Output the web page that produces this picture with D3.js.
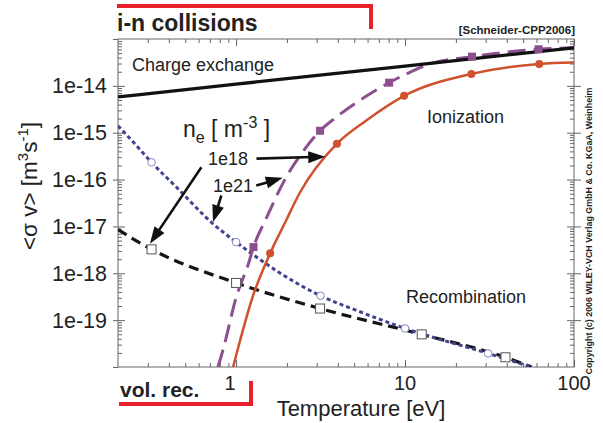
<!DOCTYPE html>
<html>
<head>
<meta charset="utf-8">
<title>i-n collisions</title>
<script src="https://cdn.jsdelivr.net/npm/d3@7"></script>
<style>
  body { margin: 0; background: #fff; }
  svg text { font-family: 'Liberation Sans', Arial, sans-serif; fill: #222; }
</style>
</head>
<body>
<svg id="chart" width="603" height="423"></svg>
<script>
// temperature [eV] -> rate coefficient <sigma v> [m^3 s^-1]
var cxT = [0.2, 1, 10, 100];
var cxV = [5.8e-15, 1.09e-14, 2.65e-14, 6.5e-14];

// ionization, ne = 1e18
var ion18T = [0.96, 1.02, 1.251, 1.591, 1.977, 2.37, 3.954, 5.87, 9.87, 24.7, 62.3, 100];
var ion18V = [1e-20, 2.3e-20, 3.08e-19, 2.67e-18, 1.34e-17, 5.04e-17, 5.83e-16, 1.8e-15, 6.12e-15, 1.8e-14, 2.94e-14, 3.15e-14];
var ion18MarkT = [1.591, 3.954, 9.87, 24.7, 62.3];
var ion18MarkV = [2.67e-18, 5.83e-16, 6.12e-15, 1.8e-14, 2.94e-14];

// ionization, ne = 1e21
var ion21T = [0.781, 0.836, 1.003, 1.185, 1.268, 1.507, 1.93, 2.595, 3.14, 3.9, 5.35, 8.05, 10.1, 13.86, 24.9, 61.7, 100];
var ion21V = [1e-20, 2.3e-20, 3.13e-19, 1.63e-18, 3.63e-18, 1.48e-17, 9.5e-17, 4.86e-16, 1.1e-15, 2.12e-15, 4.8e-15, 1.17e-14, 1.77e-14, 2.9e-14, 4.2e-14, 6.04e-14, 6.55e-14];
var ion21MarkT = [1.268, 3.14, 8.05, 24.9, 61.7];
var ion21MarkV = [3.63e-18, 1.1e-15, 1.17e-14, 4.2e-14, 6.04e-14];

// recombination, ne = 1e18
var rec18T = [0.2, 0.263, 0.316, 0.444, 0.73, 1.0, 3.16, 5.12, 10, 31, 56];
var rec18V = [1.41e-15, 4.86e-16, 2.33e-16, 6.85e-17, 1.14e-17, 4.63e-18, 3.32e-19, 1.63e-19, 6.65e-20, 1.95e-20, 1e-20];
var rec18MarkT = [0.316, 1.0, 3.16, 10, 31];
var rec18MarkV = [2.33e-16, 4.63e-18, 3.32e-19, 6.65e-20, 1.95e-20];

// recombination, ne = 1e21
var rec21T = [0.2, 0.316, 1.0, 3.14, 12.55, 39.3, 56];
var rec21V = [8.51e-18, 3.24e-18, 6.22e-19, 1.77e-19, 4.97e-20, 1.61e-20, 1e-20];
var rec21MarkT = [0.316, 1.0, 3.14, 12.55, 39.3];
var rec21MarkV = [3.24e-18, 6.22e-19, 1.77e-19, 4.97e-20, 1.61e-20];

var xTicks = [1, 10, 100];
var xTickLabels = ["1", "10", "100"];
var yTicks = [1e-19, 1e-18, 1e-17, 1e-16, 1e-15, 1e-14];
var yTickLabels = ["1e-19", "1e-18", "1e-17", "1e-16", "1e-15", "1e-14"];

// arrows: [T0, v0, T1, v1]
var arrows = [
  [1.32, 2.8e-16, 3.37, 3.08e-16],
  [0.623, 1.83e-16, 0.309, 4.29e-18],
  [1.316, 7.45e-17, 1.888, 1.09e-16],
  [0.818, 4.57e-17, 0.730, 1.24e-17]
];

var svg = d3.select("#chart");
var x = d3.scaleLog().domain([0.2, 100]).range([118, 574]);
var y = d3.scaleLog().domain([1e-20, 1e-13]).range([367, 39]);

var xMinor = [], yMinor = [];
[0.1, 1, 10].forEach(function (d) {
  for (var k = 2; k <= 9; k++) if (d * k > 0.2) xMinor.push(d * k);
});
for (var e = -20; e < -13; e++) {
  for (var k = 2; k <= 9; k++) yMinor.push(k * Math.pow(10, e));
}

function tickAxis(gen, tx, ty, vals, size) {
  var g = svg.append("g").attr("transform", "translate(" + tx + "," + ty + ")")
    .call(gen.tickValues(vals).tickSize(size).tickSizeOuter(0).tickFormat(""));
  g.selectAll("line").attr("stroke", "#666");
  g.select(".domain").remove();
  return g;
}

// ticks: majors cross the left/right axes, minors point inward
tickAxis(d3.axisLeft(y), 118, 0, yTicks.concat([1e-20, 1e-13]), 5);
tickAxis(d3.axisRight(y), 118, 0, yTicks, 7);
tickAxis(d3.axisRight(y), 118, 0, yMinor, 4);
tickAxis(d3.axisRight(y), 574, 0, yTicks, 7);
tickAxis(d3.axisLeft(y), 574, 0, yTicks, 7);
tickAxis(d3.axisLeft(y), 574, 0, yMinor, 4);
tickAxis(d3.axisBottom(x), 0, 39, xTicks, 7);
tickAxis(d3.axisBottom(x), 0, 39, xMinor, 4);
tickAxis(d3.axisTop(x), 0, 367, xTicks, 7);
tickAxis(d3.axisTop(x), 0, 367, xMinor, 4);

svg.append("rect").attr("x", 118).attr("y", 39).attr("width", 456).attr("height", 328)
  .attr("fill", "none").attr("stroke", "#666").attr("stroke-width", 1);

// tick labels
svg.append("g").selectAll("text").data(yTicks).join("text")
  .attr("x", 107).attr("y", function (d) { return y(d) + 7.5; })
  .attr("text-anchor", "end").attr("font-size", 21.5)
  .text(function (d, i) { return yTickLabels[i]; });
svg.append("g").selectAll("text").data(xTicks).join("text")
  .attr("x", function (d) { return x(d) + (d === 1 ? -6 : 0); }).attr("y", 390)
  .attr("text-anchor", "middle").attr("font-size", 20)
  .text(function (d, i) { return xTickLabels[i]; });

// curves
var clip = svg.append("clipPath").attr("id", "plotclip").append("rect")
  .attr("x", 118).attr("y", 39).attr("width", 456).attr("height", 328);
var plot = svg.append("g").attr("clip-path", "url(#plotclip)");

function pts(T, V) { return T.map(function (t, i) { return [x(t), y(V[i])]; }); }
var line = d3.line().curve(d3.curveMonotoneX);

function drawCurve(T, V, color, width, dash) {
  plot.append("path").attr("d", line(pts(T, V)))
    .attr("fill", "none").attr("stroke", color).attr("stroke-width", width)
    .attr("stroke-dasharray", dash);
}
drawCurve(rec21T, rec21V, "#151515", 3.2, "10,6");
drawCurve(rec18T, rec18V, "#41438f", 3, "4,3");
drawCurve(ion18T, ion18V, "#cf512d", 2.5, null);
drawCurve(ion21T, ion21V, "#8c4f90", 3, "18,8");
drawCurve(cxT, cxV, "#111", 3.3, null);

plot.append("g").selectAll("circle").data(ion18MarkT).join("circle")
  .attr("cx", function (d) { return x(d); })
  .attr("cy", function (d, i) { return y(ion18MarkV[i]); })
  .attr("r", 4).attr("fill", "#cf512d");
plot.append("g").selectAll("rect").data(ion21MarkT).join("rect")
  .attr("x", function (d) { return x(d) - 4; })
  .attr("y", function (d, i) { return y(ion21MarkV[i]) - 4; })
  .attr("width", 8).attr("height", 8).attr("fill", "#8c4f90");
plot.append("g").selectAll("circle").data(rec18MarkT).join("circle")
  .attr("cx", function (d) { return x(d); })
  .attr("cy", function (d, i) { return y(rec18MarkV[i]); })
  .attr("r", 3.8).attr("fill", "#fff").attr("stroke", "#8585c4").attr("stroke-width", 1);
plot.append("g").selectAll("rect").data(rec21MarkT).join("rect")
  .attr("x", function (d) { return x(d) - 4.5; })
  .attr("y", function (d, i) { return y(rec21MarkV[i]) - 4.5; })
  .attr("width", 9).attr("height", 9).attr("fill", "#fff")
  .attr("stroke", "#555").attr("stroke-width", 1);

// arrows
arrows.forEach(function (a) {
  var x0 = x(a[0]), y0 = y(a[1]), x1 = x(a[2]), y1 = y(a[3]);
  var dx = x1 - x0, dy = y1 - y0, L = Math.sqrt(dx * dx + dy * dy);
  var ux = dx / L, uy = dy / L, hl = 17, hw = 6;
  svg.append("line").attr("x1", x0).attr("y1", y0)
    .attr("x2", x1 - ux * hl * 0.8).attr("y2", y1 - uy * hl * 0.8)
    .attr("stroke", "#111").attr("stroke-width", 2.6);
  var bx = x1 - ux * hl, by = y1 - uy * hl;
  svg.append("polygon").attr("fill", "#111")
    .attr("points", [[x1, y1], [bx - uy * hw, by + ux * hw], [bx + uy * hw, by - ux * hw]].join(" "));
});

// labels
function label(txt, px, py, size, weight) {
  return svg.append("text").attr("x", px).attr("y", py).attr("font-size", size)
    .attr("font-weight", weight || "normal").text(txt);
}
label("Charge exchange", 132, 71, 18);
label("Ionization", 427, 123, 18);
label("Recombination", 406, 303, 18);
label("1e18", 208, 165, 18);
label("1e21", 213, 192, 18);

var ne = svg.append("text").attr("x", 183).attr("y", 137).attr("font-size", 23);
ne.append("tspan").text("n");
ne.append("tspan").attr("font-size", 16).attr("dy", 6).text("e");
ne.append("tspan").attr("dy", -6).text(" [ m");
ne.append("tspan").attr("font-size", 16).attr("dy", -9).text("-3");
ne.append("tspan").attr("dy", 9).text(" ]");

var yl = svg.append("text").attr("transform", "translate(37,186) rotate(-90)")
  .attr("text-anchor", "middle").attr("font-size", 22.5);
yl.append("tspan").text("<\u03c3 v> [m");
yl.append("tspan").attr("font-size", 15).attr("dy", -9).text("3");
yl.append("tspan").attr("dy", 9).text("s");
yl.append("tspan").attr("font-size", 15).attr("dy", -9).text("-1");
yl.append("tspan").attr("dy", 9).text("]");

label("Temperature [eV]", 361, 416, 22).attr("text-anchor", "middle");

label("i-n collisions", 117, 31, 23, "bold");
label("[Schneider-CPP2006]", 575, 34, 11.5, "bold").attr("text-anchor", "end");
label("vol. rec.", 120, 397, 21, "bold");

svg.append("polyline").attr("points", "117,6 371,6 371,29")
  .attr("fill", "none").attr("stroke", "#e8202a").attr("stroke-width", 4);
svg.append("polyline").attr("points", "119,404 251,404 251,381")
  .attr("fill", "none").attr("stroke", "#e8202a").attr("stroke-width", 4);

svg.append("text").attr("transform", "translate(592,231) rotate(-90)")
  .attr("text-anchor", "middle").attr("font-size", 9).attr("font-weight", "bold")
  .attr("textLength", 287).attr("lengthAdjust", "spacingAndGlyphs")
  .text("Copyright (c) 2006 WILEY-VCH Verlag GmbH & Co. KGaA, Weinheim");
</script>
</body>
</html>
